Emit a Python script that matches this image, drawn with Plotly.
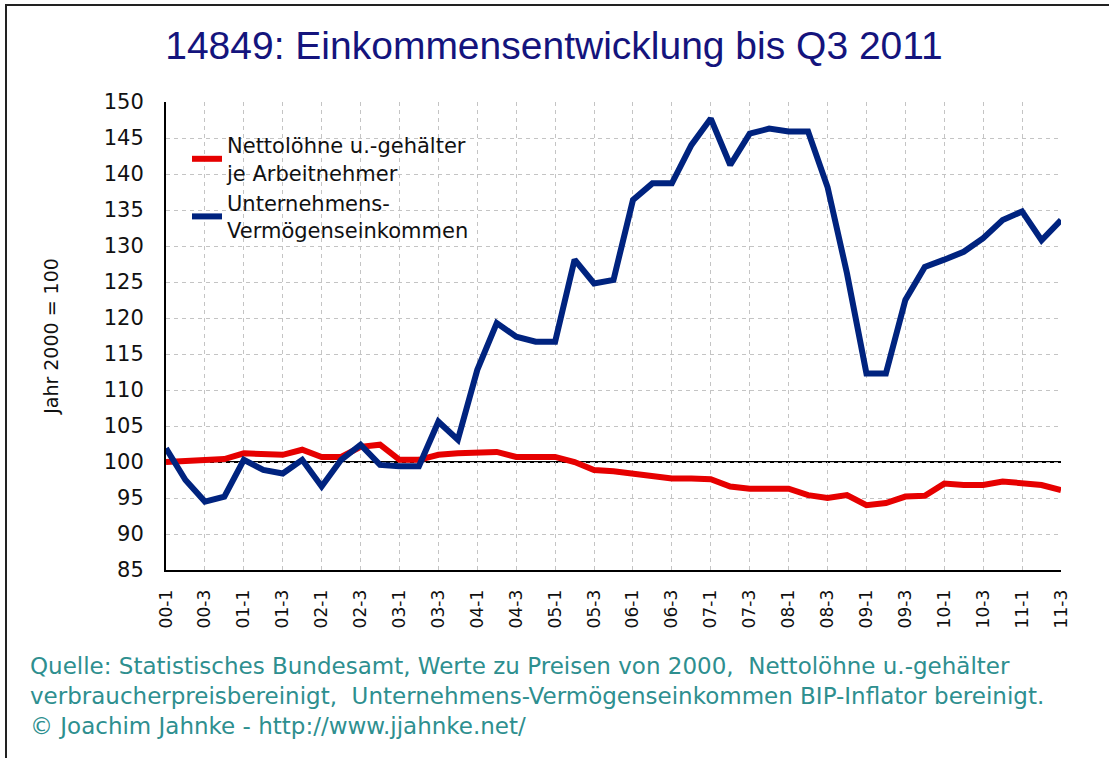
import plotly.graph_objects as go

# ---- data ----
quarters = ["00-1","00-2","00-3","00-4","01-1","01-2","01-3","01-4",
            "02-1","02-2","02-3","02-4","03-1","03-2","03-3","03-4",
            "04-1","04-2","04-3","04-4","05-1","05-2","05-3","05-4",
            "06-1","06-2","06-3","06-4","07-1","07-2","07-3","07-4",
            "08-1","08-2","08-3","08-4","09-1","09-2","09-3","09-4",
            "10-1","10-2","10-3","10-4","11-1","11-2","11-3"]

tick_labels = ["00-1","00-3","01-1","01-3","02-1","02-3","03-1","03-3",
               "04-1","04-3","05-1","05-3","06-1","06-3","07-1","07-3",
               "08-1","08-3","09-1","09-3","10-1","10-3","11-1","11-3"]

netto = [100.0,100.2,100.4,100.4,101.2,101.0,101.0,101.7,100.7,100.7,
         102.1,102.4,100.3,100.3,101.0,101.2,101.4,101.4,100.7,100.7,
         100.7,100.0,98.9,98.7,98.4,98.0,97.7,97.7,97.6,96.6,
         96.3,96.3,96.3,95.4,95.0,95.4,94.0,94.3,95.2,95.3,
         97.0,96.8,96.8,97.3,97.0,96.8,96.1]

unternehmen = [101.9,97.5,94.5,95.2,100.3,98.9,98.4,100.3,96.6,100.3,
               102.4,99.6,99.4,99.4,105.6,103.1,112.8,119.3,117.4,116.7,
               116.7,128.1,124.8,125.3,136.4,138.7,138.7,144.0,147.7,141.25,
               145.6,146.3,145.9,145.9,138.2,126.2,112.3,112.3,122.5,127.1,
               128.1,129.2,131.1,133.6,134.8,130.8,133.6]

series_names = ["Nettolöhne u.-gehälter<br>je Arbeitnehmer",
                "Unternehmens-<br>Vermögenseinkommen"]

title_text = "14849: Einkommensentwicklung bis Q3 2011"
y_title = "Jahr 2000 = 100"
footer_lines = [
    "Quelle: Statistisches Bundesamt, Werte zu Preisen von 2000,&nbsp; Nettolöhne u.-gehälter",
    "verbraucherpreisbereinigt,&nbsp; Unternehmens-Vermögenseinkommen BIP-Inflator bereinigt.",
    "© Joachim Jahnke - http://www.jjahnke.net/",
]

# ---- layout geometry (pixels) ----
W, H = 1109, 758
L, R, T, B = 166, 1061, 102, 570
pw, ph = R - L, B - T

def px_x(p):
    return (p - L) / pw

def px_y(p):
    return (B - p) / ph

FONT_T = "Liberation Sans, Arial, sans-serif"
FONT = "DejaVu Sans, sans-serif"

fig = go.Figure()
fig.add_trace(go.Scatter(x=quarters, y=netto, mode="lines", name=series_names[0],
                         line=dict(color="#e60000", width=6)))
fig.add_trace(go.Scatter(x=quarters, y=unternehmen, mode="lines", name=series_names[1],
                         line=dict(color="#00237f", width=6)))

# reference line at 100
fig.add_shape(type="line", xref="paper", yref="y", x0=0, x1=1, y0=100, y1=100,
              line=dict(color="black", width=2), layer="below")

# outer frame
fig.add_shape(type="rect", xref="paper", yref="paper",
              x0=px_x(6), x1=px_x(1130), y0=px_y(5), y1=px_y(790),
              line=dict(color="#222222", width=2), layer="below")

for i, line in enumerate(footer_lines):
    fig.add_annotation(text=line, xref="paper", yref="paper",
                       x=px_x(28), y=px_y(666 + 30 * i),
                       xanchor="left", yanchor="middle", showarrow=False,
                       font=dict(family=FONT, size=23, color="#2e8f8f"))

fig.update_layout(
    width=W, height=H,
    margin=dict(l=L, r=W - R, t=T, b=H - B),
    paper_bgcolor="white", plot_bgcolor="white",
    title=dict(text=title_text, x=554 / W, xref="container", xanchor="center",
               y=1 - 45 / H, yref="container", yanchor="middle",
               font=dict(family=FONT_T, size=39, color="#14147d")),
    showlegend=True,
    legend=dict(x=px_x(187), y=px_y(125), xanchor="left", yanchor="top",
                bgcolor="rgba(255,255,255,0)", borderwidth=0,
                font=dict(family=FONT, size=21, color="#111111"),
                itemwidth=30, tracegroupgap=4),
    xaxis=dict(type="category", range=[0, len(quarters) - 1], tickmode="array",
               tickvals=tick_labels, ticktext=tick_labels, tickangle=-90,
               showgrid=True, gridcolor="#c4c4c4", griddash="4px,4px", gridwidth=1,
               showline=True, linecolor="black", linewidth=2, ticks="",
               ticklabelstandoff=11,
               tickfont=dict(family=FONT, size=17, color="#111111"),
               zeroline=False, fixedrange=True),
    yaxis=dict(range=[85, 150], dtick=5, tick0=85,
               showgrid=True, gridcolor="#c4c4c4", griddash="4px,4px", gridwidth=1,
               showline=True, linecolor="black", linewidth=2, ticks="",
               ticklabelstandoff=16,
               tickfont=dict(family=FONT, size=21, color="#111111"),
               title=dict(text=y_title, standoff=40,
                          font=dict(family=FONT, size=19, color="#111111")),
               zeroline=False, fixedrange=True),
)

fig.write_html("out.html", config={"displayModeBar": False},
               post_script="document.body.style.margin='0';")
